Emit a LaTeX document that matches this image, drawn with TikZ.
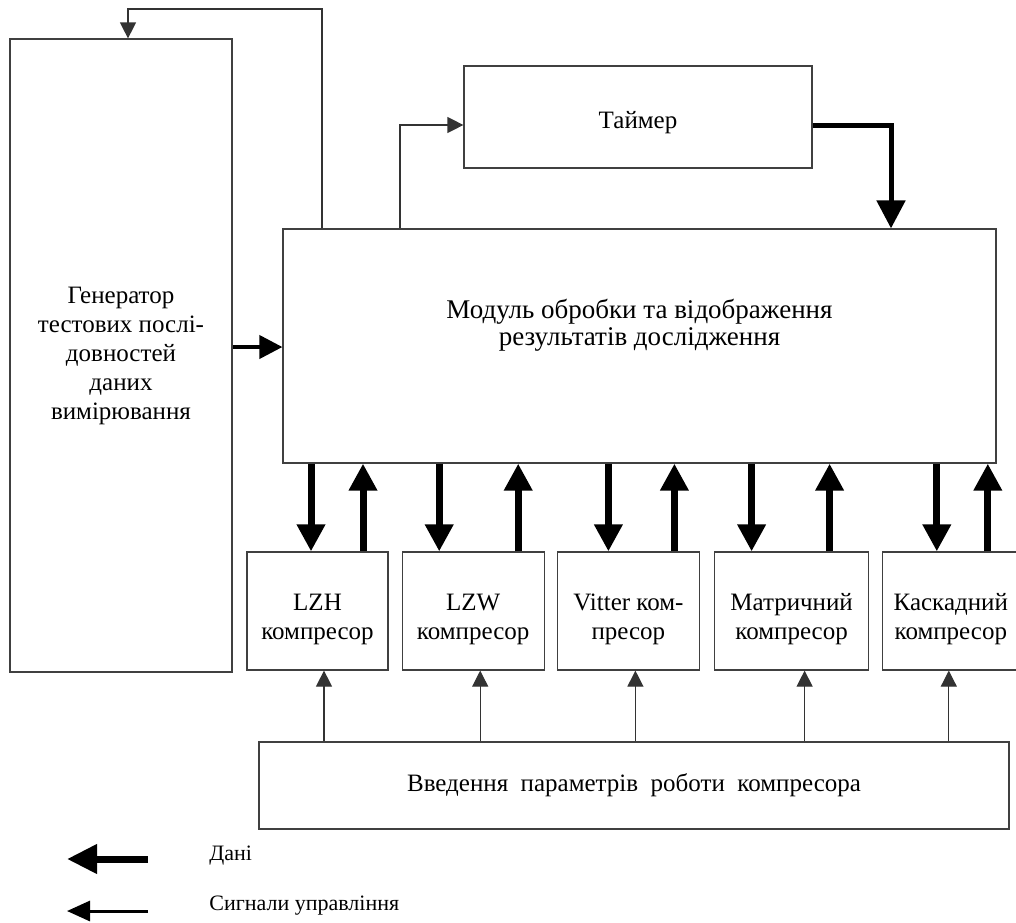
\documentclass[tikz,border=0pt]{standalone}
\usepackage{fontspec}
\setmainfont{Liberation Serif}
\usetikzlibrary{arrows.meta, positioning}

\begin{document}
\begin{tikzpicture}[
    x=0.5pt, y=-0.5pt,
    box/.style={rectangle, draw=black!75, line width=0.6pt, align=center,
      font=\fontsize{12.5}{14.5}\selectfont, inner sep=2pt},
    comp/.style={box, minimum height=59pt, text height=30.8pt},
    keytext/.style={anchor=west, font=\fontsize{11}{13}\selectfont, inner sep=2pt},
    data/.style={line width=3.5pt, -{Triangle[length=13.5pt,width=13.5pt]}},
    ctrl/.style={draw=black!80, line width=0.6pt, -{Triangle[length=8pt,width=8pt]}}
  ]
    \useasboundingbox (0,0) rectangle (1016,922);

    % main blocks
    \node[box, minimum width=111pt, minimum height=316.5pt] (gen) at (121,355.5)
      {Генератор\\тестових послі-\\довностей\\даних\\вимірювання};
    \node[box, minimum width=174pt, minimum height=51pt, text height=14.3pt] (timer) at (638,117) {Таймер};
    \node[box, minimum width=356.5pt, minimum height=117pt, text depth=24pt,
      font=\fontsize{13.5}{13.5}\selectfont] (main) at (639.5,346)
      {Модуль обробки та відображення\\результатів дослідження};

    % compressors
    \node[comp, minimum width=70.5pt] (lzh) at (317.5,611) {LZH\\компресор};
    \node[comp, minimum width=71pt, right=6.5pt of lzh] (lzw) {LZW\\компресор};
    \node[comp, minimum width=71pt, right=6pt of lzw] (vitter) {Vitter ком-\\пресор};
    \node[comp, minimum width=77pt, right=7pt of vitter] (matrix) {Матричний\\компресор};
    \node[comp, minimum width=68pt, right=6.5pt of matrix] (cascade) {Каскадний\\компресор};

    \node[box, minimum width=375pt, minimum height=43.5pt] (input) at (634,785.5)
      {Введення\ \ параметрів\ \ роботи\ \ компресора};

    % control lines at the top
    \coordinate (fb) at (322,9);
    \coordinate (fbin) at (128,9);
    \draw[ctrl] (main.north -| fb) -- (fb) -- (fbin) -- (gen.north -| fbin);
    \coordinate (tm) at (400,125);
    \draw[ctrl] (main.north -| tm) |- (timer.west |- tm);
    \coordinate (td) at (891,125);
    \draw[data, line width=2.5pt, -{Triangle[length=14pt,width=14pt]}] (timer.east |- td) -| (main.north -| td);
    \draw[data, line width=2pt, -{Triangle[length=11.5pt,width=11.5pt]}] (gen.east |- 0,347) -- (main.west |- 0,347);

    % data between module and compressors
    \draw[data] ([xshift=-3.25pt]lzh.north |- main.south) -- ([xshift=-3.25pt]lzh.north);
    \draw[data] ([xshift=22.75pt]lzh.north) -- ([xshift=22.75pt]lzh.north |- main.south);
    \draw[data] ([xshift=-17pt]lzw.north |- main.south) -- ([xshift=-17pt]lzw.north);
    \draw[data] ([xshift=22.5pt]lzw.north) -- ([xshift=22.5pt]lzw.north |- main.south);
    \draw[data] ([xshift=-10pt]vitter.north |- main.south) -- ([xshift=-10pt]vitter.north);
    \draw[data] ([xshift=23pt]vitter.north) -- ([xshift=23pt]vitter.north |- main.south);
    \draw[data] ([xshift=-20pt]matrix.north |- main.south) -- ([xshift=-20pt]matrix.north);
    \draw[data] ([xshift=19pt]matrix.north) -- ([xshift=19pt]matrix.north |- main.south);
    \draw[data] ([xshift=-7pt]cascade.north |- main.south) -- ([xshift=-7pt]cascade.north);
    \draw[data] ([xshift=18.5pt]cascade.north) -- ([xshift=18.5pt]cascade.north |- main.south);

    % parameters to compressors
    \draw[ctrl] ([xshift=3.25pt]lzh.south |- input.north) -- ([xshift=3.25pt]lzh.south);
    \draw[ctrl] ([xshift=3.5pt]lzw.south |- input.north) -- ([xshift=3.5pt]lzw.south);
    \draw[ctrl] ([xshift=3.5pt]vitter.south |- input.north) -- ([xshift=3.5pt]vitter.south);
    \draw[ctrl] ([xshift=6.5pt]matrix.south |- input.north) -- ([xshift=6.5pt]matrix.south);
    \draw[ctrl] ([xshift=-1pt]cascade.south |- input.north) -- ([xshift=-1pt]cascade.south);

    % legend
    \coordinate (keydata) at (148,859);
    \coordinate (keydataend) at (67,859);
    \draw[data, -{Triangle[length=15pt,width=14pt]}] (keydata) -- (keydataend);
    \node[keytext] (keydatatext) at (205,856) {Дані};
    \coordinate (keyctrl) at (148,911);
    \coordinate (keyctrlend) at (67,911);
    \draw[line width=1.5pt, -{Triangle[length=11.5pt,width=10pt]}] (keyctrl) -- (keyctrlend);
    \node[keytext] (keyctrltext) at (205,906) {Сигнали управління};
  \end{tikzpicture}
\end{document}
